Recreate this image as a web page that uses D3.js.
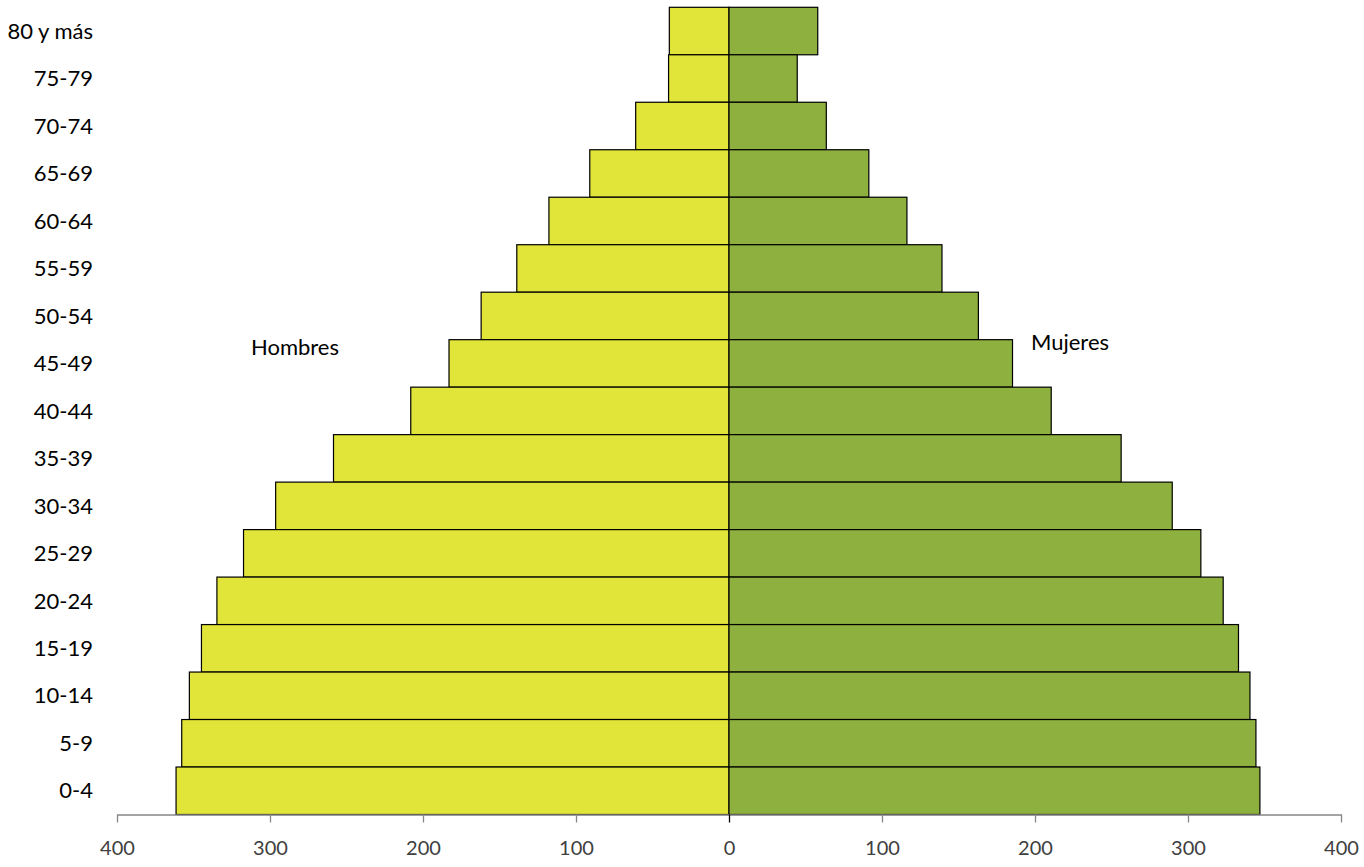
<!DOCTYPE html>
<html>
<head>
<meta charset="utf-8">
<script src="https://cdn.jsdelivr.net/npm/d3@7"></script>
<style>
  html, body { margin: 0; padding: 0; background: #fff; }
  svg { display: block; }
</style>
</head>
<body>
<svg id="chart" width="1364" height="867"></svg>
<script>
// Age groups, top to bottom
const ageGroups = ["80 y más","75-79","70-74","65-69","60-64","55-59","50-54","45-49","40-44","35-39","30-34","25-29","20-24","15-19","10-14","5-9","0-4"];
// Hombres (men), same order
const hombres = [39, 39.5, 61, 91, 117.7, 138.7, 162, 183, 208, 258.5, 296.3, 317.3, 334.7, 344.8, 352.7, 357.7, 361.4];
// Mujeres (women), same order
const mujeres = [58, 44.6, 63.6, 91.4, 116.3, 139.2, 163, 185.3, 210.6, 256.3, 289.7, 308.4, 323, 333, 340.5, 344.4, 347];
const xTicks = [-400, -300, -200, -100, 0, 100, 200, 300, 400];
const seriesLabels = ["Hombres", "Mujeres"];

const svg = d3.select("#chart");
const x = d3.scaleLinear().domain([-400, 400]).range([117, 1341]);
const y = d3.scaleBand().domain(ageGroups).range([7.3, 814.5]).padding(0);

const font = "Lato, Calibri, 'Open Sans', sans-serif";

// Bars - men (left)
svg.append("g").selectAll("rect")
  .data(ageGroups.map((g, i) => ({g, v: hombres[i]})))
  .join("rect")
  .attr("x", d => x(-d.v))
  .attr("y", d => y(d.g))
  .attr("width", d => x(0) - x(-d.v))
  .attr("height", y.bandwidth())
  .attr("fill", "#e1e439")
  .attr("stroke", "#000")
  .attr("stroke-width", 1.2);

// Bars - women (right)
svg.append("g").selectAll("rect")
  .data(ageGroups.map((g, i) => ({g, v: mujeres[i]})))
  .join("rect")
  .attr("x", x(0))
  .attr("y", d => y(d.g))
  .attr("width", d => x(d.v) - x(0))
  .attr("height", y.bandwidth())
  .attr("fill", "#8db03f")
  .attr("stroke", "#000")
  .attr("stroke-width", 1.2);

// X axis
const xAxis = svg.append("g")
  .attr("transform", `translate(0,${y.range()[1]})`)
  .call(d3.axisBottom(x).tickValues(xTicks).tickFormat(d => Math.abs(d)).tickSize(8).tickSizeOuter(0).tickPadding(18));
xAxis.select(".domain").attr("stroke", "#868686").attr("stroke-width", 1.3);
xAxis.selectAll(".tick line").attr("stroke", "#868686").attr("stroke-width", 1.3);
xAxis.selectAll(".tick")
  .filter(d => d === 0)
  .select("line").attr("stroke", "#000");
xAxis.selectAll(".tick text")
  .attr("font-family", font)
  .attr("font-size", 20)
  .attr("fill", "#404040");

// Y labels
svg.append("g").selectAll("text")
  .data(ageGroups)
  .join("text")
  .attr("x", 93)
  .attr("y", d => y(d) + y.bandwidth() / 2)
  .attr("dy", "0.35em")
  .attr("text-anchor", "end")
  .attr("font-family", font)
  .attr("font-size", 22)
  .attr("fill", "#000")
  .text(d => d);

// Series labels
svg.append("text")
  .attr("x", 295).attr("y", 347).attr("dy", "0.35em")
  .attr("text-anchor", "middle")
  .attr("font-family", font).attr("font-size", 22).attr("fill", "#000")
  .text(seriesLabels[0]);
svg.append("text")
  .attr("x", 1070).attr("y", 342).attr("dy", "0.35em")
  .attr("text-anchor", "middle")
  .attr("font-family", font).attr("font-size", 22).attr("fill", "#000")
  .text(seriesLabels[1]);
</script>
</body>
</html>
